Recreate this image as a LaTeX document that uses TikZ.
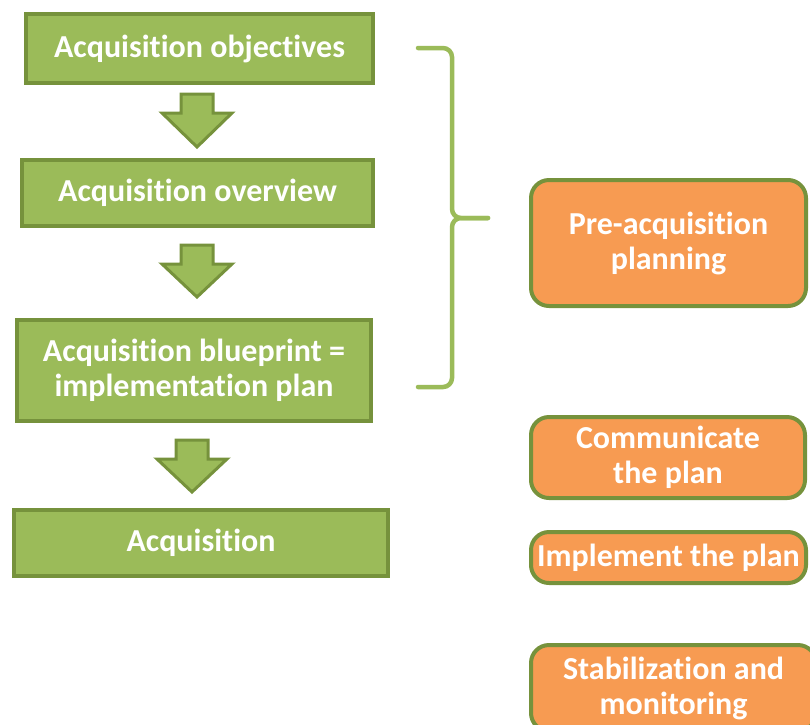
\documentclass[tikz,border=0pt]{standalone}
\usepackage{fontspec}
\setmainfont{Carlito}[Ligatures=NoCommon]
\definecolor{leaf}{HTML}{9BBB59}
\definecolor{leafdark}{HTML}{76923C}
\definecolor{tang}{HTML}{F79B52}
\begin{document}
\begin{tikzpicture}[x=1pt,y=-1pt,
  every node/.style={font=\bfseries\fontsize{32}{35}\selectfont, text=white, align=center, inner sep=0pt},
  stepbox/.style={draw=leafdark, fill=leaf, line width=4pt, rectangle},
  phase/.style={draw=leafdark, fill=tang, line width=4pt, rectangle, rounded corners=18pt},
  blockarrow/.style={draw=leafdark, fill=leaf, line width=3pt, line join=miter},
  brace/.style={draw=leaf, line width=4.5pt, rounded corners=9pt, line cap=round}]
\useasboundingbox (0,0) rectangle (810,724);

% left column: the four stages
\node[stepbox, minimum width=347, minimum height=69] (obj) at (199.5,48.5) {Acquisition objectives};
\node[stepbox, minimum width=351, minimum height=66] (ovw) at (197.5,193) {Acquisition overview};
\node[stepbox, minimum width=354, minimum height=101] (blu) at (194,370.5) {Acquisition blueprint =\\implementation plan};
\node[stepbox, minimum width=374, minimum height=66] (acq) at (201,543) {Acquisition};

% block arrows between the stages
\foreach \cx/\top/\tip in {197/94/147, 197/245/297, 192/440/492} {
  \path[blockarrow] (\cx-16,\top) -- (\cx+16,\top) -- (\cx+16,\top+19) -- (\cx+35,\top+19)
     -- (\cx,\tip) -- (\cx-35,\top+19) -- (\cx-16,\top+19) -- cycle;
}

% right column: the phases
\node[phase, minimum width=275, minimum height=126] (pre) at (668.5,243) {Pre-acquisition\\planning};
\node[phase, minimum width=274, minimum height=81] (com) at (668,457.5) {Communicate\\the plan};
\node[phase, minimum width=275, minimum height=51] (imp) at (668.5,557.5) {Implement the plan};
\node[phase, minimum width=285, minimum height=86] (sta) at (673.5,688) {Stabilization and\\monitoring};

% brace grouping the first three stages
\coordinate (bt) at (418,48);
\coordinate (bb) at (418,387);
\coordinate (bm) at (452,218);
\coordinate (bp) at (488,218);
\path[brace] (bt) -| (bm) -- (bp);
\path[brace] (bb) -| (bm) -- (bp);
\end{tikzpicture}
\end{document}
